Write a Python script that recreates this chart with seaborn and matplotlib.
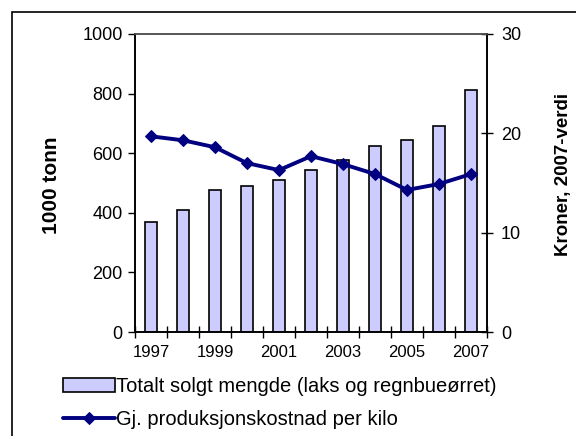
import numpy as np
import seaborn as sns
import matplotlib.pyplot as plt
from matplotlib.patches import Rectangle

years = ["1997", "1998", "1999", "2000", "2001", "2002",
         "2003", "2004", "2005", "2006", "2007"]
solgt = [370, 409, 476, 491, 510, 544, 577, 624, 644, 691, 812]
kostnad = [19.7, 19.3, 18.6, 17.0, 16.3, 17.7, 16.9, 15.9, 14.3, 14.9, 15.9]

sns.set_theme(style="white", rc={"text.color": "black",
                                 "axes.labelcolor": "black",
                                 "xtick.color": "black",
                                 "ytick.color": "black"})
plt.rcParams["font.family"] = ["Liberation Sans", "DejaVu Sans"]

fig = plt.figure(figsize=(5.76, 4.36), dpi=100)
ax = fig.add_axes([135 / 576, 1 - 332 / 436, 352 / 576, 298 / 436])

# bars on left axis
sns.barplot(x=years, y=solgt, color="#CCCCFF", saturation=1, width=0.38,
            edgecolor="black", linewidth=1.2, ax=ax,
            label="Totalt solgt mengde (laks og regnbueørret)")

ax2 = ax.twinx()
xpos = np.arange(len(years))
sns.lineplot(x=xpos, y=kostnad, color="#000080", linewidth=2.8, marker="D",
             markersize=6, markeredgecolor="#000080", ax=ax2,
             label="Gj. produksjonskostnad per kilo")

ax.set_xlim(-0.5, len(years) - 0.5)
ax.set_ylim(0, 1000)
ax2.set_ylim(0, 30)
ax.set_yticks(range(0, 1001, 200))
ax2.set_yticks([0, 10, 20, 30])

# year labels on every other bar, tick marks between bars
ax.set_xticks(np.arange(-0.5, len(years), 1.0))
ax.set_xticklabels([])
ax.set_xticks(xpos[::2], minor=True)
ax.set_xticklabels(years[::2], minor=True)
ax.tick_params(axis="x", which="major", direction="inout", length=8,
               width=1, color="black", bottom=True)
ax.tick_params(axis="x", which="minor", length=0, pad=9, labelsize=12)
ax.tick_params(axis="y", direction="out", length=5, width=1, color="black",
               left=True, labelsize=13, pad=4)
ax2.tick_params(axis="y", direction="inout", length=8, width=1,
                color="black", right=True, labelsize=13, pad=6)

ax.set_ylabel("1000 tonn", fontsize=15, fontweight="bold")
ax2.set_ylabel("Kroner, 2007-verdi", fontsize=13.5, fontweight="bold")
# place axis titles by figure pixels (converted to axes fractions)
ax.yaxis.set_label_coords((61 - 135) / 352, (332 - 185) / 298)
ax2.yaxis.set_label_coords((555 - 135) / 352, (332 - 174) / 298)

for a in (ax, ax2):
    for side in ("left", "right", "bottom"):
        a.spines[side].set_color("black")
        a.spines[side].set_linewidth(1.2)
    a.spines["top"].set_color("#555555")
    a.spines["top"].set_linewidth(1.2)

# combined legend below the plot
h1, l1 = ax.get_legend_handles_labels()
h2, l2 = ax2.get_legend_handles_labels()
if ax.get_legend():
    ax.get_legend().remove()
ax2.get_legend().remove()
fig.legend(h1 + h2, l1 + l2, loc="upper left",
           bbox_to_anchor=(55 / 576, 1 - 369 / 436), frameon=False,
           fontsize=14.5, handlelength=2.6, handletextpad=0.05,
           labelspacing=0.7, borderaxespad=0)

# outer chart frame
fig.patches.append(Rectangle((12 / 576, -0.1), 1.2, 1 - 12 / 436 + 0.1,
                             transform=fig.transFigure, fill=False,
                             edgecolor="black", linewidth=1.2))

fig.savefig("out.png", dpi=100)
